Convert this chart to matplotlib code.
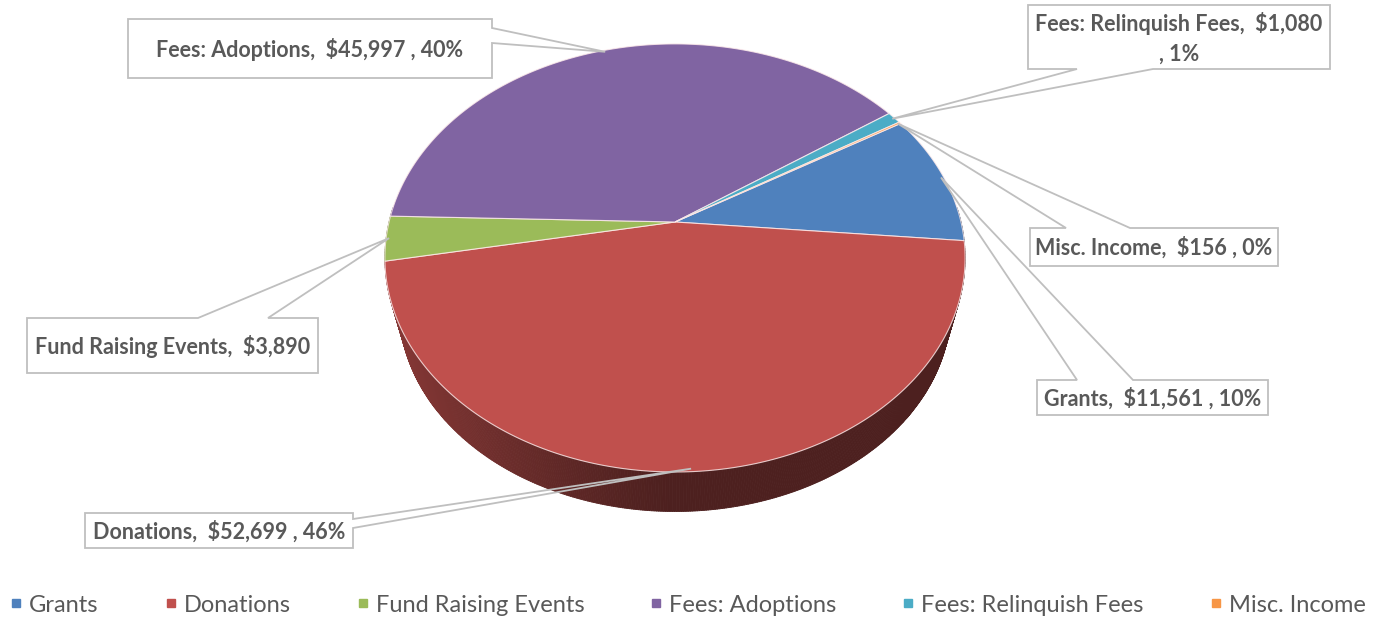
import numpy as np
import matplotlib.pyplot as plt
from matplotlib.collections import PolyCollection
from matplotlib.lines import Line2D
from matplotlib.patches import Polygon, Rectangle
from matplotlib.colors import to_rgb

plt.rcParams['font.family'] = ['Lato', 'DejaVu Sans']

LABELS = ['Grants', 'Donations', 'Fund Raising Events', 'Fees: Adoptions',
          'Fees: Relinquish Fees', 'Misc. Income']
VALUES = [11561, 52699, 3890, 45997, 1080, 156]
COLORS = ['#4F81BD', '#C0504D', '#9BBB59', '#8064A2', '#4BACC6', '#F79646']
CALLOUTS = [
    'Grants,  $11,561 , 10%',
    'Donations,  $52,699 , 46%',
    'Fund Raising Events,  $3,890',
    'Fees: Adoptions,  $45,997 , 40%',
    'Fees: Relinquish Fees,  $1,080\n, 1%',
    'Misc. Income,  $156 , 0%',
]

# callout boxes in pixels: (x0, y0, x1, y1), edge holding the pointer, pointer base
BOXES = [
    ((1037, 380, 1268, 415), 'top', (1077, 1133)),
    ((85, 513, 353, 548), 'right', (519, 528)),
    ((27, 318, 318, 373), 'top', (198, 268)),
    ((128, 19, 492, 78), 'right', (28, 43)),
    ((1028, 5, 1330, 69), 'bottom', (1077, 1153)),
    ((1030, 228, 1278, 266), 'top', (1066, 1130)),
]

W, H = 1379, 619
CX, CY = 675, 222       # apex of the pie on screen
SX, SY = 286, 208       # radius scale
K = 0.168               # perspective strength
BOTTOM_SCALE = 0.95     # base of the pie is farther away, so a bit smaller
BOTTOM_DROP = 52
START = 31.0            # degrees, slices run clockwise from here


def project(t, r=1.0):
    x = r * np.cos(t)
    y = r * np.sin(t)
    d = 1 + K * y
    return CX + SX * x / d, CY - SY * y / d


def project_bottom(t):
    x, y = project(t)
    return CX + BOTTOM_SCALE * (x - CX), CY + BOTTOM_DROP + BOTTOM_SCALE * (y - CY)


def slice_angles(values):
    total = float(sum(values))
    out = []
    hi = START
    for v in values:
        lo = hi - 360.0 * v / total
        out.append((lo, hi))
        hi = lo
    return out


def shade(color, px):
    r, g, b = to_rgb(color)
    f = 0.40 + 0.30 * np.clip((CX - px) / 290.0, 0, 1) ** 1.2
    return (r * f, g * f, b * f)


def draw_side(ax, angles):
    v0, v1 = -184.0, 4.0
    polys, cols = [], []
    for (lo, hi), color in zip(angles, COLORS):
        for off in (-360, 0, 360):
            a = max(lo + off, v0)
            b = min(hi + off, v1)
            if b <= a:
                continue
            ts = np.radians(np.linspace(a, b, max(2, int((b - a) / 0.4) + 2)))
            for t1, t2 in zip(ts[:-1], ts[1:]):
                x1, y1 = project(t1)
                x2, y2 = project(t2)
                bx1, by1 = project_bottom(t1)
                bx2, by2 = project_bottom(t2)
                polys.append([(x1, y1), (x2, y2), (bx2, by2), (bx1, by1)])
                cols.append(shade(color, (x1 + x2) / 2))
    pc = PolyCollection(polys, facecolors=cols, edgecolors=cols, linewidths=0.6, zorder=1)
    ax.add_collection(pc)


def draw_top(ax, angles):
    for (lo, hi), color in zip(angles, COLORS):
        ts = np.radians(np.linspace(hi, lo, max(2, int((hi - lo) / 0.5) + 2)))
        xs, ys = project(ts)
        pts = [(CX, CY)] + list(zip(xs, ys))
        ax.add_patch(Polygon(pts, closed=True, facecolor=color,
                             edgecolor=(1, 0.93, 0.93, 0.8), linewidth=0.8, zorder=2))


def draw_callout(ax, box, side, base, tip, text):
    x0, y0, x1, y1 = box
    a, b = base
    if side == 'top':
        pts = [(x0, y0), (a, y0), tip, (b, y0), (x1, y0), (x1, y1), (x0, y1)]
    elif side == 'right':
        pts = [(x0, y0), (x1, y0), (x1, a), tip, (x1, b), (x1, y1), (x0, y1)]
    else:
        pts = [(x0, y0), (x1, y0), (x1, y1), (b, y1), tip, (a, y1), (x0, y1)]
    ax.add_patch(Rectangle((x0, y0), x1 - x0, y1 - y0, facecolor='white',
                           edgecolor='none', zorder=3))
    ax.add_patch(Polygon(pts, closed=True, fill=False, edgecolor='#BFBFBF',
                         linewidth=1.3, zorder=4))
    ax.text((x0 + x1) / 2, (y0 + y1) / 2 + 1, text, ha='center', va='center',
            fontsize=15.5, fontweight='bold', color='#595959',
            linespacing=1.5, zorder=5)


fig = plt.figure(figsize=(W / 100, H / 100), dpi=100)
ax = fig.add_axes([0, 0, 1, 1])
ax.set_xlim(0, W)
ax.set_ylim(H, 0)
ax.axis('off')

angles = slice_angles(VALUES)
draw_side(ax, angles)
draw_top(ax, angles)

for (lo, hi), text, (box, side, base) in zip(angles, CALLOUTS, BOXES):
    tip = project(np.radians((lo + hi) / 2), 0.99)
    draw_callout(ax, box, side, base, tip, text)

handles = [Line2D([], [], marker='s', linestyle='', color=c, markersize=6)
           for c in COLORS]
fig.legend(handles, LABELS, loc='center left', bbox_to_anchor=(9 / W, 1 - 605 / H),
           ncol=6, frameon=False, fontsize=17, labelcolor='#595959',
           handlelength=0.6, handletextpad=0.25, columnspacing=2.75,
           borderpad=0, borderaxespad=0)

fig.savefig('out.png', dpi=100)
